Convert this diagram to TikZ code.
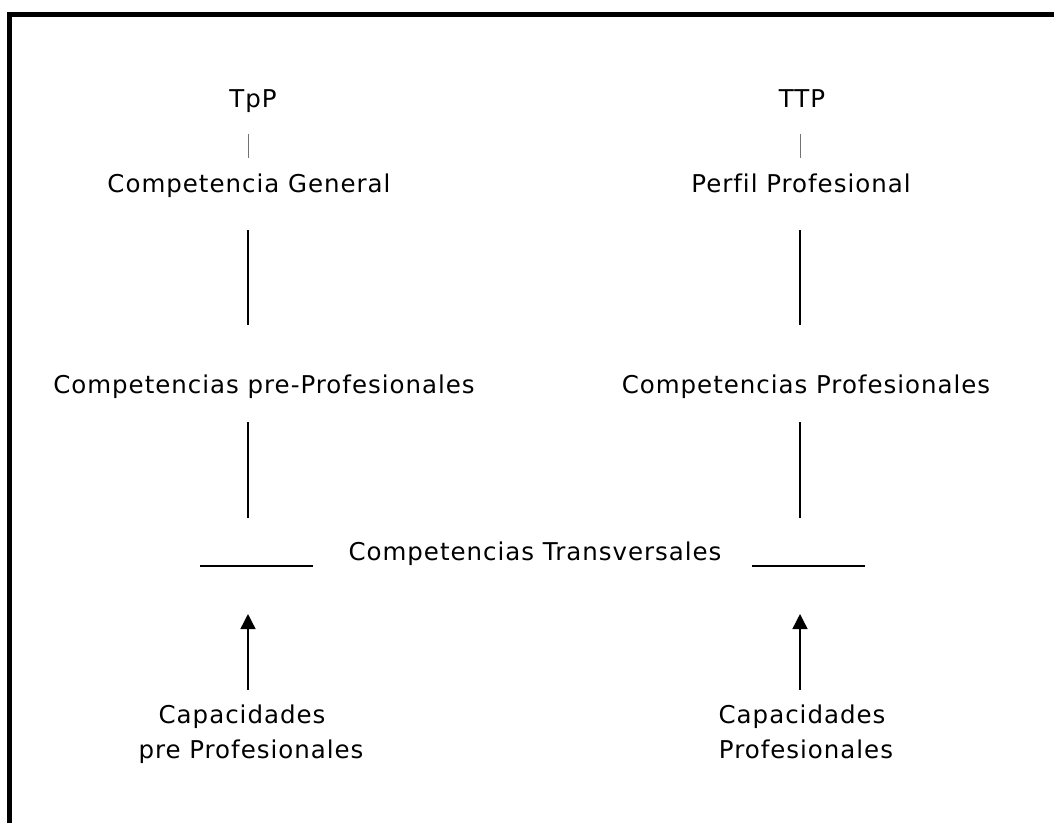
\documentclass[tikz,border=0pt]{standalone}
\usepackage{fontspec}
\setmainfont[LetterSpace=4,Ligatures=NoCommon]{DejaVu Sans}
\usetikzlibrary{arrows.meta}
\begin{document}
\begin{tikzpicture}[x=1pt,y=-1pt,
  lbl/.style={inner sep=0pt, anchor=base, font=\fontsize{24.5}{35}\selectfont},
  thin/.style={draw=black!55, line width=0.9pt},
  conn/.style={draw=black, line width=1.4pt},
  arr/.style={draw=black, line width=1.4pt, -{Triangle[length=15pt,width=15pt]}}]
\useasboundingbox (0,0) rectangle (1054,823);
\draw[line width=5pt, line join=miter] (9.5,823) -- (9.5,14.5) -- (1054,14.5);
% left column
\node[lbl] (tpp) at (253,107.3) {TpP};
\node[lbl] (cg) at (249,192) {Competencia General};
\node[lbl] (cpp) at (264,393) {Competencias pre-Profesionales};
\coordinate (l1) at (248,134); \coordinate (l2) at (248,158);
\path[thin] (l1) -- (l2);
\coordinate (l3) at (248,230); \coordinate (l4) at (248,325);
\path[conn] (l3) -- (l4);
\coordinate (l5) at (248,422); \coordinate (l6) at (248,518);
\path[conn] (l5) -- (l6);
\coordinate (h1) at (200,566); \coordinate (h2) at (313,566);
\path[conn] (h1) -- (h2);
\node[lbl] (cap1a) at (242,723.3) {Capacidades};
\node[lbl] (cap1b) at (251,758.3) {pre Profesionales};
\coordinate (a1) at (248,690); \coordinate (a2) at (248,614);
\path[arr] (a1) -- (a2);
% middle
\node[lbl] (ct) at (535,560) {Competencias Transversales};
% right column
\node[lbl] (ttp) at (802,107.3) {TTP};
\node[lbl] (pp) at (801,192) {Perfil Profesional};
\node[lbl] (cp) at (806,393) {Competencias Profesionales};
\coordinate (r1) at (800,134); \coordinate (r2) at (800,158);
\path[thin] (r1) -- (r2);
\coordinate (r3) at (800,230); \coordinate (r4) at (800,325);
\path[conn] (r3) -- (r4);
\coordinate (r5) at (800,422); \coordinate (r6) at (800,518);
\path[conn] (r5) -- (r6);
\coordinate (h3) at (752,566); \coordinate (h4) at (865,566);
\path[conn] (h3) -- (h4);
\node[lbl] (cap2a) at (802,723.3) {Capacidades};
\node[lbl] (cap2b) at (806,758.3) {Profesionales};
\coordinate (b1) at (800,690); \coordinate (b2) at (800,614);
\path[arr] (b1) -- (b2);
\end{tikzpicture}
\end{document}
